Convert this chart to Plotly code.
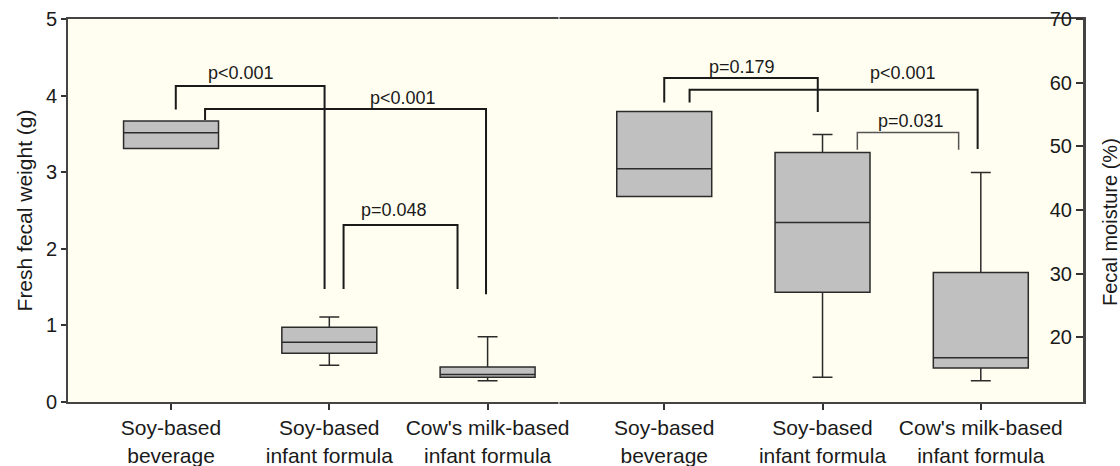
import plotly.graph_objects as go

# ---------------- data ----------------
categories = ["Soy-based<br>beverage", "Soy-based<br>infant formula",
              "Cow's milk-based<br>infant formula"]

# Fresh fecal weight (g)  -- left axis
weight_low = [3.31, 0.479, 0.278]
weight_q1 = [3.31, 0.636, 0.322]
weight_median = [3.516, 0.779, 0.36]
weight_q3 = [3.668, 0.975, 0.457]
weight_high = [3.668, 1.11, 0.853]

# Fecal moisture (%)  -- right axis
moist_low = [42.1, 13.71, 13.18]
moist_q1 = [42.1, 27.08, 15.17]
moist_median = [46.46, 38.02, 16.8]
moist_q3 = [55.47, 49.03, 30.16]
moist_high = [55.47, 51.86, 45.88]

# p-value comparisons
p_labels = ["p<0.001", "p<0.001", "p=0.048", "p=0.179", "p<0.001", "p=0.031"]
p_panel = ["weight", "weight", "weight", "moist", "moist", "moist"]
p_group_a = [0, 0, 1, 0, 0, 1]
p_group_b = [1, 2, 2, 1, 2, 2]
p_top = [4.125, 3.825, 2.31, 60.72, 58.88, 52.17]
p_leg_a = [3.82, 3.68, 1.475, 56.9, 56.9, 49.45]
p_leg_b = [1.475, 1.406, 1.475, 55.4, 49.56, 49.45]

# ---------------- layout helpers ----------------
left_pos = [0, 1, 2]
right_pos = [3.116, 4.116, 5.116]
all_pos = left_pos + right_pos
off_a = [0.03, 0.215, 0.09, 0.0, 0.16, 0.22]
off_b = [-0.03, -0.01, -0.19, -0.03, -0.02, -0.14]
label_dx = [0.44, 1.466, 1.41, 3.607, 4.625, 4.675]
label_y = [4.29, 3.963, 2.507, 62.45, 61.5, 54.0]

FONT = "Liberation Sans, Arial, Helvetica, sans-serif"
BOX_FILL = "#c0c0c0"
LINE = "#2b2b2b"

fig = go.Figure()

for i in range(3):
    fig.add_trace(go.Box(
        x=[left_pos[i]], q1=[weight_q1[i]], median=[weight_median[i]], q3=[weight_q3[i]],
        lowerfence=[weight_low[i]], upperfence=[weight_high[i]],
        width=0.6, whiskerwidth=0.21, fillcolor=BOX_FILL,
        line=dict(color=LINE, width=1.5), yaxis="y", showlegend=False,
        hoverinfo="skip"))
for i in range(3):
    fig.add_trace(go.Box(
        x=[right_pos[i]], q1=[moist_q1[i]], median=[moist_median[i]], q3=[moist_q3[i]],
        lowerfence=[moist_low[i]], upperfence=[moist_high[i]],
        width=0.6, whiskerwidth=0.21, fillcolor=BOX_FILL,
        line=dict(color=LINE, width=1.5), yaxis="y2", showlegend=False,
        hoverinfo="skip"))

shapes = []
annotations = []
for k in range(len(p_labels)):
    pos = left_pos if p_panel[k] == "weight" else right_pos
    yref = "y" if p_panel[k] == "weight" else "y2"
    xa = pos[p_group_a[k]] + off_a[k]
    xb = pos[p_group_b[k]] + off_b[k]
    col = "#555555" if k == 5 else "#1a1a1a"
    w = 1.5 if k == 5 else 2
    path = f"M {xa} {p_leg_a[k]} L {xa} {p_top[k]} L {xb} {p_top[k]} L {xb} {p_leg_b[k]}"
    shapes.append(dict(type="path", path=path, xref="x", yref=yref,
                       line=dict(color=col, width=w), layer="above"))
    annotations.append(dict(x=label_dx[k], y=label_y[k], xref="x", yref=yref,
                            text=p_labels[k], showarrow=False,
                            font=dict(size=18, color="#1a1a1a", family=FONT),
                            xanchor="center", yanchor="middle"))

# right axis title (placed beside the right frame)
annotations.append(dict(x=(1110 - 68) / (1084 - 68), y=(402 - 222) / (402 - 19),
                        xref="paper", yref="paper",
                        text="Fecal moisture (%)", textangle=-90, showarrow=False,
                        font=dict(size=20, color="#1a1a1a", family=FONT),
                        xanchor="center", yanchor="middle"))

# tiny gaps in the frame between the two panels
for y0, y1 in [(-0.012, 0.012), (0.988, 1.012)]:
    shapes.append(dict(type="line", xref="x", yref="paper", x0=2.451, x1=2.451,
                       y0=y0, y1=y1, line=dict(color="white", width=1), layer="above"))

fig.update_layout(
    width=1120, height=466,
    margin=dict(l=68, r=36, t=19, b=64, autoexpand=False),
    paper_bgcolor="white", plot_bgcolor="#fffef0",
    font=dict(family=FONT, size=20, color="#1a1a1a"),
    showlegend=False,
    shapes=shapes, annotations=annotations,
    xaxis=dict(range=[-0.651, 5.768], tickmode="array", tickvals=all_pos,
               ticktext=categories + categories, ticks="outside", ticklen=6,
               tickcolor="#333", tickwidth=1.5,
               tickfont=dict(size=21, family=FONT, color="#1a1a1a"),
               showline=True, linecolor="#444", linewidth=2, mirror=True,
               showgrid=False, zeroline=False, fixedrange=True, automargin=False),
    yaxis=dict(range=[0, 5], tickvals=[0, 1, 2, 3, 4, 5], ticks="outside", ticklen=5,
               tickcolor="#333", tickwidth=1.5,
               tickfont=dict(size=20, family=FONT, color="#1a1a1a"),
               title=dict(text="Fresh fecal weight (g)", standoff=8,
                          font=dict(size=21, family=FONT, color="#1a1a1a")),
               showline=True, linecolor="#444", linewidth=2, mirror=True,
               showgrid=False, zeroline=False, fixedrange=True, automargin=False),
    yaxis2=dict(range=[9.83, 70], tickvals=[20, 30, 40, 50, 60, 70], overlaying="y",
                anchor="free", position=1.0, side="left",
                ticks="outside", ticklen=7, tickcolor="#333", tickwidth=1.5,
                tickfont=dict(size=20, family=FONT, color="#1a1a1a"),
                showline=True, linecolor="#444", linewidth=2,
                showgrid=False, zeroline=False, fixedrange=True, automargin=False),
)

fig.write_html("out.html", config={"displayModeBar": False},
               post_script="document.body.style.margin='0';document.body.style.overflow='hidden';")
